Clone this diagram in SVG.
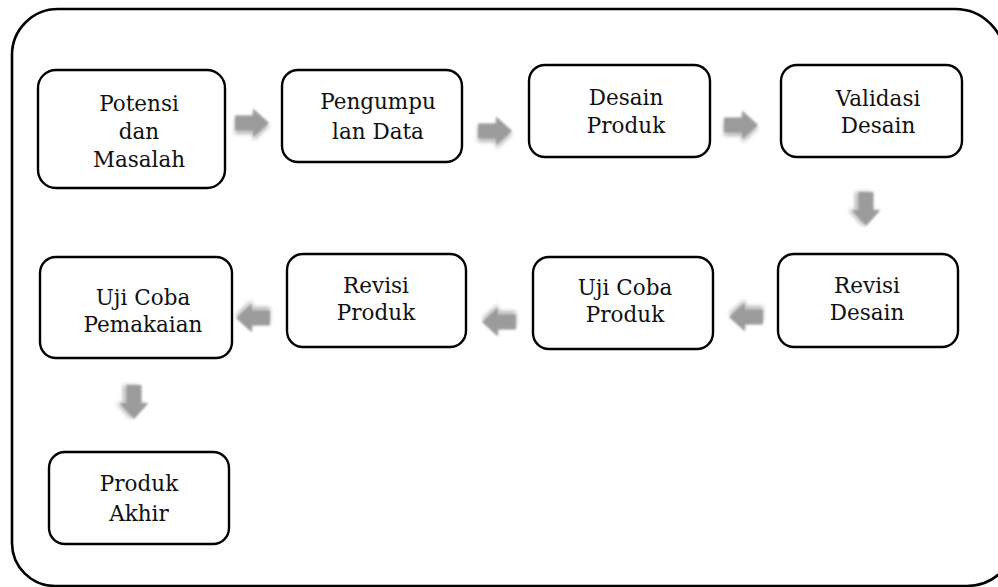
<svg xmlns="http://www.w3.org/2000/svg" xmlns:xlink="http://www.w3.org/1999/xlink" width="998" height="587" viewBox="0 0 998 587">
<style>
.box{fill:#fff;stroke:#000;stroke-width:2.4}
.frame{fill:none;stroke:#000;stroke-width:2.6}
.lbl{font-family:"DejaVu Serif","Liberation Serif",serif;font-size:21.5px;fill:#111;text-anchor:middle}
.arr{fill:#9b9b9b;filter:url(#soft)}
</style>
<defs>
<filter id="soft" x="-40%" y="-40%" width="180%" height="180%">
<feGaussianBlur in="SourceAlpha" stdDeviation="2.2" result="b"/>
<feOffset in="b" dx="0" dy="3" result="o"/>
<feComponentTransfer in="o" result="s"><feFuncA type="linear" slope="0.35"/></feComponentTransfer>
<feGaussianBlur in="SourceGraphic" stdDeviation="0.9" result="g"/>
<feMerge><feMergeNode in="s"/><feMergeNode in="g"/></feMerge>
</filter>
<path id="arr" d="M-17,-7.5 H1 V-14.5 L17,0 L1,14.5 V7.5 H-17 Z"/>
</defs>
<path class="frame" d="M12,55 A46,46 0 0 1 58,9 H955 A50,50 0 0 1 1005,59 L1016.7,536 A50,50 0 0 1 966.7,586 H55 A43,43 0 0 1 12,543 Z"/>
<g id="connectors">
<use xlink:href="#arr" class="arr" transform="translate(252,123)"/>
<use xlink:href="#arr" class="arr" transform="translate(495,131)"/>
<use xlink:href="#arr" class="arr" transform="translate(741,125)"/>
<use xlink:href="#arr" class="arr" transform="translate(866,209) rotate(90)"/>
<use xlink:href="#arr" class="arr" transform="translate(746,317) rotate(180)"/>
<use xlink:href="#arr" class="arr" transform="translate(499,322) rotate(180)"/>
<use xlink:href="#arr" class="arr" transform="translate(253,318) rotate(180)"/>
<use xlink:href="#arr" class="arr" transform="translate(134,402) rotate(90)"/>
</g>
<g id="n1"><rect class="box" x="38" y="70" width="187" height="118" rx="18"/>
<text class="lbl" x="139" y="111">Potensi</text><text class="lbl" x="139" y="139">dan</text><text class="lbl" x="139" y="167">Masalah</text></g>
<g id="n2"><rect class="box" x="282" y="70" width="180" height="92" rx="16"/>
<text class="lbl" x="378" y="109">Pengumpu</text><text class="lbl" x="378" y="139">lan Data</text></g>
<g id="n3"><rect class="box" x="529" y="65" width="181" height="92" rx="16"/>
<text class="lbl" x="626" y="105">Desain</text><text class="lbl" x="626" y="133">Produk</text></g>
<g id="n4"><rect class="box" x="781" y="65" width="181" height="92" rx="16"/>
<text class="lbl" x="878" y="106">Validasi</text><text class="lbl" x="878" y="133">Desain</text></g>
<g id="n5"><rect class="box" x="778" y="254" width="180" height="93" rx="16"/>
<text class="lbl" x="867" y="293">Revisi</text><text class="lbl" x="867" y="320">Desain</text></g>
<g id="n6"><rect class="box" x="533" y="257" width="180" height="92" rx="16"/>
<text class="lbl" x="625" y="295">Uji Coba</text><text class="lbl" x="625" y="322">Produk</text></g>
<g id="n7"><rect class="box" x="287" y="254" width="179" height="93" rx="16"/>
<text class="lbl" x="376" y="293">Revisi</text><text class="lbl" x="376" y="320">Produk</text></g>
<g id="n8"><rect class="box" x="40" y="257" width="192" height="101" rx="16"/>
<text class="lbl" x="143" y="305">Uji Coba</text><text class="lbl" x="143" y="332">Pemakaian</text></g>
<g id="n9"><rect class="box" x="49" y="452" width="180" height="92" rx="16"/>
<text class="lbl" x="139" y="491">Produk</text><text class="lbl" x="139" y="521">Akhir</text></g>
</svg>
